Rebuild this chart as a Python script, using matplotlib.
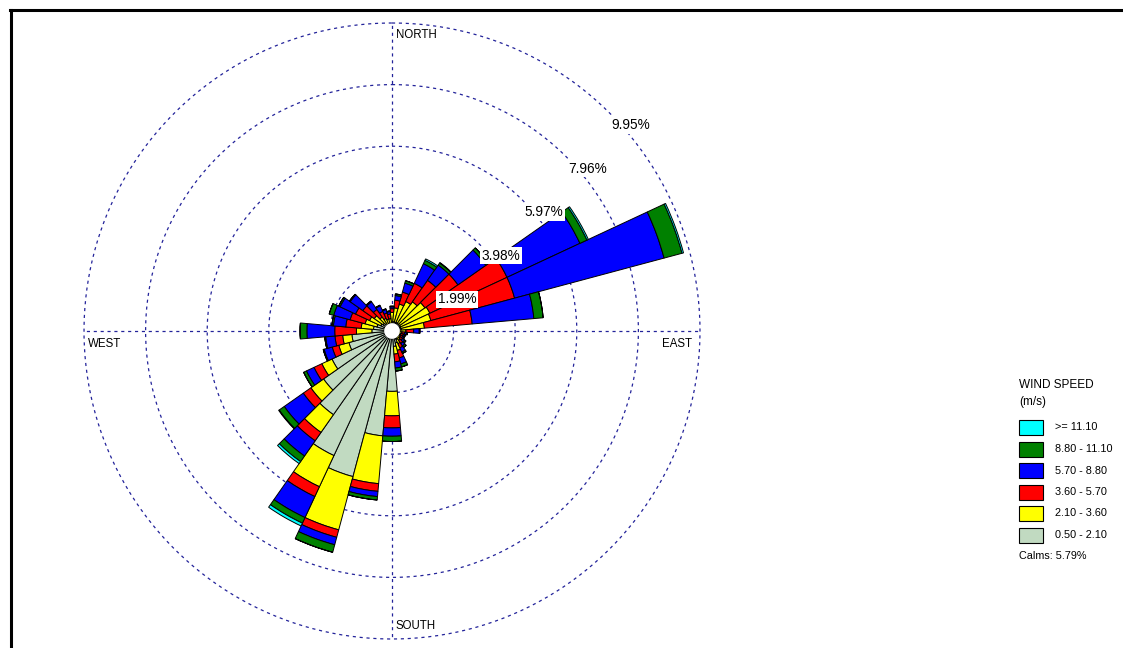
import numpy as np
import matplotlib
matplotlib.use("Agg")
import matplotlib.pyplot as plt
from matplotlib.patches import Rectangle, Circle
from matplotlib.lines import Line2D

plt.rcParams['font.family'] = ['Liberation Sans', 'DejaVu Sans']

# wind direction bins (degrees, where the wind comes from)
directions = np.arange(0, 360, 10)

# frequency (%) per speed class, per direction
spd_050_210 = [.30, .30, .30, .30, .30, .30, .30, .30, .30, .20, .20, .20, .20, .20, .25, .30, .40, .50,
               1.95, 3.40, 4.87, 4.44, 3.30, 2.70, 2.14, 1.44, 1.30, .65, .60, .50, .40, .35, .30, .25, .25, .25]
spd_210_360 = [.30, .45, .60, .75, .85, 1.00, 1.05, 1.00, .75, .25, .12, .10, .10, .12, .12, .15, .25, .25,
               .79, 1.55, 1.78, 1.11, .70, .50, .36, .34, .30, .50, .40, .40, .40, .35, .25, .20, .15, .15]
spd_360_570 = [.12, .25, .40, .65, .85, 1.30, 2.75, 2.80, 1.55, .25, .10, .08, .08, .10, .12, .15, .25, .25,
               .39, .25, .25, .35, .33, .30, .28, .22, .25, .70, .50, .50, .50, .45, .30, .25, .20, .15]
spd_570_880 = [.06, .15, .30, .70, .60, 1.10, 2.60, 5.00, 2.00, .18, .06, .05, .05, .08, .10, .15, .20, .20,
               .27, .17, .25, .75, .60, .75, .27, .27, .30, .90, .40, .55, .55, .50, .30, .20, .12, .08]
spd_880_1110 = [.02, .05, .08, .12, .08, .10, .25, .60, .30, .02, .02, .02, .02, .05, .06, .05, .10, .10,
                .17, .11, .25, .20, .22, .20, .10, .03, .03, .22, .05, .15, .05, .03, .03, .02, .02, .02]
spd_1110_up = [0, 0, 0, .05, .02, 0, .05, .05, 0, 0, 0, 0, 0, 0, 0, 0, 0, 0,
               0, 0, 0, .10, .08, .02, 0, 0, 0, 0, 0, 0, 0, 0, 0, 0, 0, 0]

class_labels = [">= 11.10", "8.80 - 11.10", "5.70 - 8.80", "3.60 - 5.70", "2.10 - 3.60", "0.50 - 2.10"]
ring_values = [1.99, 3.98, 5.97, 7.96, 9.95]
calms = 5.79

colors = ['#C1DAC1', '#FFFF00', '#FF0000', '#0000FF', '#008000', '#00FFFF']
series = [spd_050_210, spd_210_360, spd_360_570, spd_570_880, spd_880_1110, spd_1110_up]

W, H = 1123, 648
fig = plt.figure(figsize=(W / 100, H / 100), dpi=100)

cx, cy, R = 392, 331, 308
ax = fig.add_axes([(cx - R) / W, (H - cy - R) / H, 2 * R / W, 2 * R / H], projection='polar')
ax.set_theta_zero_location('N')
ax.set_theta_direction(-1)
ax.set_ylim(0, ring_values[-1])
ax.set_xticks([])
ax.set_yticks([])
ax.grid(False)
ax.spines['polar'].set_visible(False)
ax.patch.set_alpha(0)

ring_col = '#23239A'
t = np.linspace(0, 2 * np.pi, 400)
for rv in ring_values:
    ax.plot(t, np.full_like(t, rv), color=ring_col, lw=0.9, dashes=(2.5, 3), zorder=1, clip_on=False)
for ang in [0, 90, 180, 270]:
    ax.plot([np.deg2rad(ang)] * 2, [0, ring_values[-1]], color=ring_col, lw=0.9,
            dashes=(2.5, 3), zorder=1, clip_on=False)

theta = np.deg2rad(directions)
width = np.deg2rad(10)
bottom = np.zeros(len(directions))
for vals, col in zip(series, colors):
    vals = np.array(vals)
    ax.bar(theta, vals, width=width, bottom=bottom, color=col, edgecolor='black',
           linewidth=0.7, zorder=3)
    bottom += vals

ax.add_patch(Circle((0, 0), 0.23, transform=ax.transData._b, color='white', zorder=5))

for rv in ring_values:
    ax.annotate(f"{rv:.2f}%", (np.deg2rad(45), rv), xytext=(1.5, -3.5), textcoords='offset points',
                ha='left', va='top', fontsize=9.8, zorder=6, annotation_clip=False,
                bbox=dict(boxstyle='square,pad=0.12', fc='white', ec='none'))


def ftext(x, y, s, **kw):
    fig.text(x / W, 1 - y / H, s, **kw)


ftext(396, 35, "NORTH", fontsize=8.3, va='center', ha='left')
ftext(396, 626, "SOUTH", fontsize=8.3, va='center', ha='left')
ftext(88, 344, "WEST", fontsize=8.3, va='center', ha='left')
ftext(662, 344, "EAST", fontsize=8.3, va='center', ha='left')

# legend
ftext(1019, 385, "WIND SPEED", fontsize=8.5, va='center', ha='left')
ftext(1019, 402, "(m/s)", fontsize=8.5, va='center', ha='left')
for i, (lab, col) in enumerate(zip(class_labels, colors[::-1])):
    ytop = 420 + i * 21.5
    fig.add_artist(Rectangle((1019 / W, 1 - (ytop + 15) / H), 24 / W, 15 / H,
                             facecolor=col, edgecolor='black', lw=0.8, transform=fig.transFigure))
    ftext(1055, ytop + 7.5, lab, fontsize=7.8, va='center', ha='left')
ftext(1019, 556, f"Calms: {calms:.2f}%", fontsize=7.8, va='center', ha='left')

# frame
fig.add_artist(Line2D([10 / W, 1], [1 - 10 / H, 1 - 10 / H], color='black', lw=2.2,
                      transform=fig.transFigure))
fig.add_artist(Line2D([11 / W, 11 / W], [0, 1 - 10 / H], color='black', lw=2.2,
                      transform=fig.transFigure))

fig.savefig("out.png", dpi=100)
